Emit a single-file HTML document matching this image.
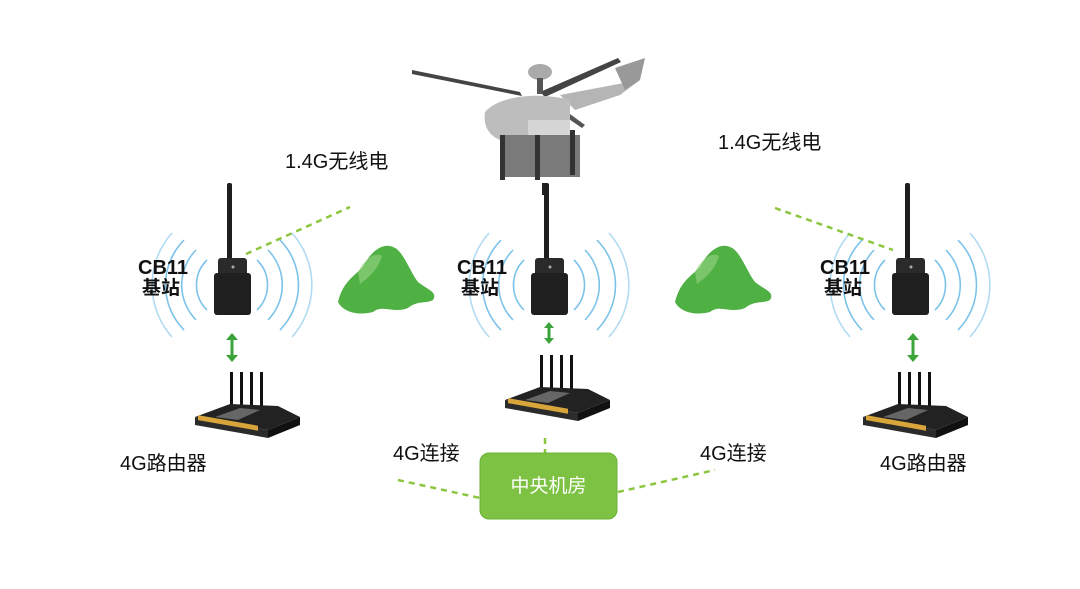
<!DOCTYPE html>
<html><head><meta charset="utf-8"><style>
html,body{margin:0;padding:0;background:#fff;}
svg{display:block;}
text{font-family:"Liberation Sans","Noto Sans CJK SC",sans-serif;}
</style></head><body>
<svg width="1080" height="589" viewBox="0 0 1080 589" xmlns="http://www.w3.org/2000/svg">
<defs>
  <g id="waves" fill="none" stroke="#7cc3ea" stroke-width="1.6">
    <path d="M-25,-25 A35,35 0 0 0 -25,25"/>
    <path d="M-36,-35 A50,50 0 0 0 -36,35"/>
    <path d="M-48,-45 A64,64 0 0 0 -48,45"/>
    <path d="M-60,-52 A78,78 0 0 0 -60,52" stroke-opacity="0.6"/>
    <path d="M25,-25 A35,35 0 0 1 25,25"/>
    <path d="M36,-35 A50,50 0 0 1 36,35"/>
    <path d="M48,-45 A64,64 0 0 1 48,45"/>
    <path d="M60,-52 A78,78 0 0 1 60,52" stroke-opacity="0.6"/>
  </g>
  <g id="station">
    <use href="#waves"/>
    <rect x="-5" y="-102" width="5" height="78" rx="2" fill="#1e1e1e"/>
    <rect x="-14" y="-27" width="29" height="20" rx="3" fill="#2a2a2a"/>
    <rect x="-18" y="-12" width="37" height="42" rx="3" fill="#1f1f1f"/>
    <circle cx="1" cy="-18" r="1.5" fill="#aaa"/>
  </g>
  <g id="router">
    <rect x="10" y="0" width="3" height="40" fill="#111"/>
    <rect x="20" y="0" width="3" height="40" fill="#111"/>
    <rect x="30" y="0" width="3" height="40" fill="#111"/>
    <rect x="40" y="0" width="3" height="40" fill="#111"/>
    <polygon points="-25,45 10,32 58,34 80,45 48,58" fill="#222"/>
    <polygon points="-5,45 20,36 40,38 18,48" fill="#666"/>
    <polygon points="-25,45 48,58 48,66 -25,53" fill="#2b2b2b"/>
    <polygon points="48,58 80,45 80,53 48,66" fill="#111"/>
    <rect x="-22" y="48" width="60" height="5" fill="#d8a53a" transform="skewY(10) translate(0,-1)"/>
  </g>
  <g id="mountain">
    <path d="M0,60 C5,40 15,35 25,25 C32,10 45,0 55,5 C65,8 72,30 80,40 C90,48 100,50 95,58 C88,62 80,58 70,66 C55,72 45,62 35,70 C20,74 5,70 0,60 Z" fill="#4fb043"/>
    <path d="M20,30 C28,15 38,10 44,14 C40,28 30,36 22,42 Z" fill="#8fcf7a" opacity="0.7"/>
  </g>
</defs>

<!-- helicopter -->
<g>
  <path d="M412,70 L520,92 L522,96 L412,74 Z" fill="#444"/>
  <path d="M540,92 L618,58 L621,62 L545,97 Z" fill="#444"/>
  <path d="M548,98 L585,125 L582,128 L544,102 Z" fill="#555"/>
  <ellipse cx="540" cy="72" rx="12" ry="8" fill="#aaa"/>
  <rect x="537" y="78" width="6" height="16" fill="#555"/>
  <path d="M560,95 L640,80 L620,95 L575,110 Z" fill="#b5b5b5"/>
  <path d="M615,68 L645,58 L640,80 L625,90 Z" fill="#999"/>
  <path d="M485,112 C500,95 540,92 570,100 L570,130 L500,140 C488,135 483,125 485,112 Z" fill="#bdbdbd"/>
  <rect x="528" y="120" width="42" height="18" fill="#d6d6d6"/>
  <rect x="500" y="135" width="80" height="42" fill="#7a7a7a"/>
  <rect x="500" y="135" width="5" height="45" fill="#333"/>
  <rect x="535" y="135" width="5" height="45" fill="#333"/>
  <rect x="570" y="130" width="5" height="45" fill="#333"/>
  <rect x="542" y="183" width="4" height="12" fill="#222"/>
</g>

<!-- stations -->
<use href="#station" x="232" y="285"/>
<use href="#station" x="549" y="285"/>
<use href="#station" x="910" y="285"/>

<text x="138" y="274" font-size="20" font-weight="bold" fill="#111">CB11</text>
<text x="142" y="294" font-size="19" font-weight="bold" fill="#111">基站</text>
<text x="457" y="274" font-size="20" font-weight="bold" fill="#111">CB11</text>
<text x="461" y="294" font-size="19" font-weight="bold" fill="#111">基站</text>
<text x="820" y="274" font-size="20" font-weight="bold" fill="#111">CB11</text>
<text x="824" y="294" font-size="19" font-weight="bold" fill="#111">基站</text>

<!-- mountains -->
<use href="#mountain" x="338" y="242"/>
<use href="#mountain" x="675" y="242"/>

<!-- arrows -->
<g fill="#3aa33a" stroke="#3aa33a">
  <line x1="232" y1="338" x2="232" y2="357" stroke-width="3"/>
  <polygon points="226,340 238,340 232,333" stroke="none"/>
  <polygon points="226,355 238,355 232,362" stroke="none"/>
  <line x1="549" y1="326" x2="549" y2="339" stroke-width="3"/>
  <polygon points="544,328 554,328 549,322" stroke="none"/>
  <polygon points="544,338 554,338 549,344" stroke="none"/>
  <line x1="913" y1="338" x2="913" y2="357" stroke-width="3"/>
  <polygon points="907,340 919,340 913,333" stroke="none"/>
  <polygon points="907,355 919,355 913,362" stroke="none"/>
</g>

<!-- routers -->
<use href="#router" x="220" y="372"/>
<use href="#router" x="530" y="355"/>
<use href="#router" x="888" y="372"/>

<!-- dotted lines -->
<g stroke="#8cc63f" stroke-width="2.5" stroke-dasharray="6,5" fill="none">
  <line x1="246" y1="254" x2="350" y2="207"/>
  <line x1="775" y1="208" x2="893" y2="250"/>
  <line x1="398" y1="480" x2="480" y2="498"/>
  <line x1="618" y1="492" x2="715" y2="470"/>
  <line x1="545" y1="438" x2="545" y2="453"/>
</g>

<!-- central box -->
<rect x="480" y="453" width="137" height="66" rx="9" fill="#7dc242" stroke="#6bb234" stroke-width="1"/>
<text x="548.5" y="492" font-size="19" fill="#fff" text-anchor="middle">中央机房</text>

<!-- labels -->
<text x="285" y="168" font-size="20" fill="#111">1.4G无线电</text>
<text x="718" y="149" font-size="20" fill="#111">1.4G无线电</text>
<text x="393" y="460" font-size="20" fill="#111">4G连接</text>
<text x="700" y="460" font-size="20" fill="#111">4G连接</text>
<text x="120" y="470" font-size="20" fill="#111">4G路由器</text>
<text x="880" y="470" font-size="20" fill="#111">4G路由器</text>
</svg>
</body></html>
